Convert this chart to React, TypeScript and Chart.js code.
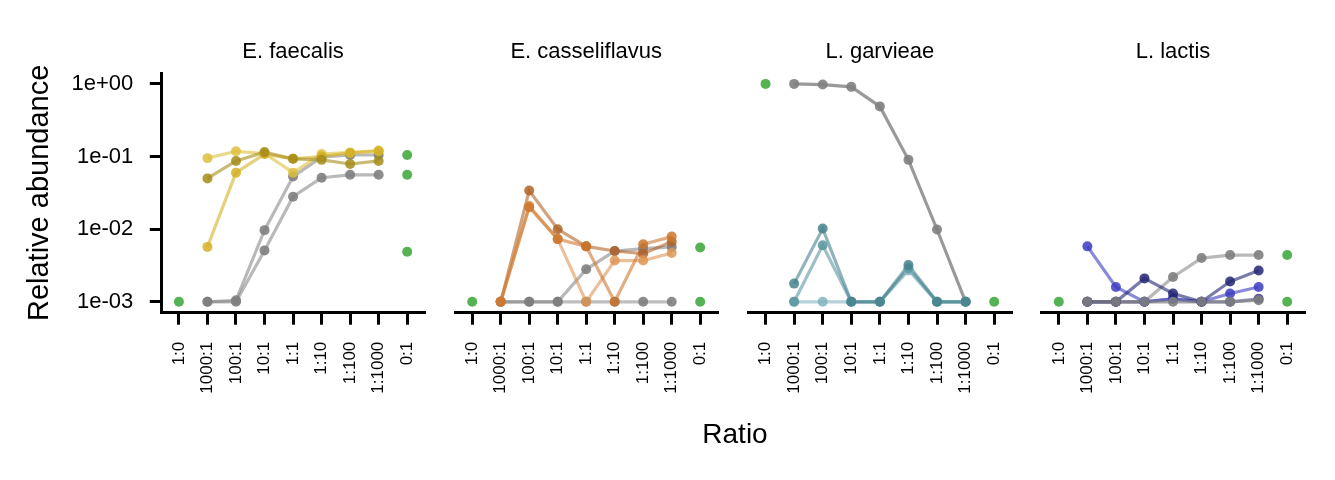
import React, { useEffect, useRef } from "react";
import { Chart, registerables } from "chart.js";

Chart.register(...registerables);

// ---------- data ----------
const ratioLabels = ["1:0", "1000:1", "100:1", "10:1", "1:1", "1:10", "1:100", "1:1000", "0:1"];
const mixIndex = [1, 2, 3, 4, 5, 6, 7];
const panelTitles = ["E. faecalis", "E. casseliflavus", "L. garvieae", "L. lactis"];
const yTickValues = [1e-3, 1e-2, 1e-1, 1];

// E. faecalis
const faecalisA = [0.095, 0.118, 0.11, 0.06, 0.108, 0.114, 0.121];
const faecalisB = [0.0057, 0.06, 0.108, 0.093, 0.1, 0.112, 0.118];
const faecalisC = [0.05, 0.087, 0.115, 0.093, 0.09, 0.079, 0.087];
const faecalisGrey1 = [0.001, 0.00105, 0.0097, 0.053, 0.098, 0.105, 0.105];
const faecalisGrey2 = [0.001, 0.001, 0.0051, 0.028, 0.051, 0.056, 0.056];
const faecalisMonoLeft = [0.001];
const faecalisMonoRight = [0.105, 0.056, 0.0049];

// E. casseliflavus
const casseliA = [0.001, 0.034, 0.01, 0.0058, 0.005, 0.0046, 0.0067];
const casseliB = [0.001, 0.021, 0.0073, 0.001, 0.0037, 0.0037, 0.0047];
const casseliC = [0.001, 0.02, 0.0073, 0.0058, 0.001, 0.0062, 0.0079];
const casseliGrey1 = [0.001, 0.001, 0.001, 0.001, 0.001, 0.001, 0.001];
const casseliGrey2 = [0.001, 0.001, 0.001, 0.0028, 0.005, 0.0054, 0.0057];
const casseliMonoLeft = [0.001];
const casseliMonoRight = [0.0056, 0.001];

// L. garvieae
const garvieaeA = [0.00178, 0.0102, 0.001, 0.001, 0.0032, 0.001, 0.001];
const garvieaeB = [0.001, 0.006, 0.001, 0.001, 0.0029, 0.001, 0.001];
const garvieaeC = [0.001, 0.001, 0.001, 0.001, 0.0027, 0.001, 0.001];
const garvieaeGrey1 = [1.0, 0.98, 0.91, 0.49, 0.09, 0.0099, 0.001];
const garvieaeMonoLeft = [1.0];
const garvieaeMonoRight = [0.001];

// L. lactis
const lactisA = [0.0058, 0.0016, 0.001, 0.0011, 0.001, 0.0013, 0.0016];
const lactisB = [0.001, 0.001, 0.0021, 0.0013, 0.001, 0.0019, 0.0027];
const lactisC = [0.001, 0.001, 0.001, 0.0011, 0.001, 0.001, 0.0011];
const lactisGrey1 = [0.001, 0.001, 0.001, 0.0022, 0.004, 0.0044, 0.0044];
const lactisGrey2 = [0.001, 0.001, 0.001, 0.001, 0.001, 0.001, 0.00105];
const lactisMonoLeft = [0.001];
const lactisMonoRight = [0.0044, 0.001];

// ---------- styles ----------
const FONT = "'Liberation Sans', Arial, Helvetica, sans-serif";
const PLOT_LEFT0 = 161.8;
const PANEL_STEP = 293.3;
const PLOT_W = 263.7;
const PLOT_BOTTOM = 312.7;
const H = 480;
const GREEN = "rgba(77,175,74,0.95)";
const GREY = [128, 128, 128];
const LINE_W = 3.2;
const POINT_R = 5;

type Series = { values: number[]; color: number[]; lineA: number; pointA: number };
type Panel = { title: string; series: Series[]; monoLeft: number[]; monoRight: number[] };

const rgba = (c: number[], a: number) => `rgba(${c[0]},${c[1]},${c[2]},${a})`;

const panels: Panel[] = [
  {
    title: panelTitles[0],
    series: [
      { values: faecalisGrey2, color: GREY, lineA: 0.55, pointA: 0.9 },
      { values: faecalisGrey1, color: GREY, lineA: 0.55, pointA: 0.9 },
      { values: faecalisA, color: [222, 192, 60], lineA: 0.6, pointA: 0.85 },
      { values: faecalisB, color: [212, 178, 36], lineA: 0.6, pointA: 0.85 },
      { values: faecalisC, color: [165, 140, 25], lineA: 0.6, pointA: 0.85 },
    ],
    monoLeft: faecalisMonoLeft,
    monoRight: faecalisMonoRight,
  },
  {
    title: panelTitles[1],
    series: [
      { values: casseliGrey1, color: GREY, lineA: 0.5, pointA: 0.9 },
      { values: casseliGrey2, color: GREY, lineA: 0.55, pointA: 0.9 },
      { values: casseliA, color: [176, 100, 40], lineA: 0.6, pointA: 0.85 },
      { values: casseliB, color: [222, 150, 85], lineA: 0.6, pointA: 0.85 },
      { values: casseliC, color: [205, 118, 45], lineA: 0.6, pointA: 0.85 },
    ],
    monoLeft: casseliMonoLeft,
    monoRight: casseliMonoRight,
  },
  {
    title: panelTitles[2],
    series: [
      { values: garvieaeGrey1, color: GREY, lineA: 0.8, pointA: 0.9 },
      { values: garvieaeC, color: [130, 180, 190], lineA: 0.6, pointA: 0.85 },
      { values: garvieaeB, color: [90, 150, 160], lineA: 0.6, pointA: 0.85 },
      { values: garvieaeA, color: [70, 130, 140], lineA: 0.6, pointA: 0.85 },
    ],
    monoLeft: garvieaeMonoLeft,
    monoRight: garvieaeMonoRight,
  },
  {
    title: panelTitles[3],
    series: [
      { values: lactisGrey1, color: GREY, lineA: 0.55, pointA: 0.9 },
      { values: lactisC, color: [55, 55, 140], lineA: 0.5, pointA: 0.85 },
      { values: lactisA, color: [60, 60, 195], lineA: 0.6, pointA: 0.85 },
      { values: lactisB, color: [35, 35, 115], lineA: 0.6, pointA: 0.85 },
      { values: lactisGrey2, color: GREY, lineA: 0.7, pointA: 0.9 },
    ],
    monoLeft: lactisMonoLeft,
    monoRight: lactisMonoRight,
  },
];

const fmtSci = (v: number) => {
  const e = Math.round(Math.log10(v));
  const sign = e < 0 ? "-" : "+";
  return `1e${sign}${String(Math.abs(e)).padStart(2, "0")}`;
};

function PanelChart({ idx }: { idx: number }) {
  const ref = useRef<HTMLCanvasElement>(null);
  const plotLeft = PLOT_LEFT0 + PANEL_STEP * idx;
  const canvasLeft = idx === 0 ? 0 : Math.floor(plotLeft) - 30;
  const padLeft = idx === 0 ? 0 : plotLeft - canvasLeft;
  const width = Math.ceil(plotLeft + PLOT_W + 20) - canvasLeft;
  const padRight = width - (plotLeft - canvasLeft) - PLOT_W;

  useEffect(() => {
    const p = panels[idx];
    const datasets: any[] = [];
    p.series.forEach((s, k) => {
      const data = s.values.map((v, i) => ({ x: mixIndex[i], y: v }));
      datasets.push({
        data,
        borderColor: rgba(s.color, s.lineA),
        borderWidth: LINE_W,
        pointRadius: 0,
        fill: false,
        tension: 0,
        order: 10 + (p.series.length - k),
      });
      datasets.push({
        data,
        showLine: false,
        pointRadius: POINT_R,
        pointBackgroundColor: rgba(s.color, s.pointA),
        pointBorderWidth: 0,
        pointBorderColor: "rgba(0,0,0,0)",
        order: 1 + (p.series.length - k) * 0.01,
      });
    });
    const mono = [
      ...p.monoLeft.map((v) => ({ x: 0, y: v })),
      ...p.monoRight.map((v) => ({ x: 8, y: v })),
    ];
    datasets.push({
      data: mono,
      showLine: false,
      pointRadius: POINT_R,
      pointBackgroundColor: GREEN,
      pointBorderWidth: 0,
      pointBorderColor: "rgba(0,0,0,0)",
      order: 0,
    });

    const axisGrid = {
      display: true,
      drawOnChartArea: false,
      drawTicks: true,
      tickLength: 12,
      color: "#000",
      lineWidth: 3,
    };
    const axisBorder = { display: true, color: "#000", width: 3 };

    const chart = new Chart(ref.current as HTMLCanvasElement, {
      type: "line",
      data: { datasets },
      options: {
        animation: false,
        responsive: false,
        maintainAspectRatio: false,
        events: [],
        layout: { padding: { left: padLeft, right: padRight, top: 0, bottom: 0 } },
        plugins: {
          legend: { display: false },
          tooltip: { enabled: false },
          title: {
            display: true,
            text: p.title,
            fullSize: false,
            color: "#000",
            font: { family: FONT, size: 22, weight: "normal", lineHeight: 1.2 },
            padding: { top: 38.8, bottom: 7.8 },
          },
        },
        scales: {
          x: {
            type: "linear",
            min: -0.6,
            max: 8.6,
            afterBuildTicks: (s: any) => {
              s.ticks = ratioLabels.map((_, i) => ({ value: i }));
            },
            afterFit: (s: any) => {
              s.height = H - PLOT_BOTTOM;
            },
            ticks: {
              autoSkip: false,
              minRotation: 90,
              maxRotation: 90,
              padding: 17,
              color: "#000",
              font: { family: FONT, size: 17 },
              callback: (v: any) => ratioLabels[v] ?? "",
            },
            grid: axisGrid,
            border: axisBorder,
          },
          y: {
            type: "logarithmic",
            display: idx === 0,
            min: Math.pow(10, -3.15),
            max: Math.pow(10, 0.15),
            afterBuildTicks: (s: any) => {
              s.ticks = yTickValues.map((v) => ({ value: v }));
            },
            afterFit:
              idx === 0
                ? (s: any) => {
                    s.width = PLOT_LEFT0;
                  }
                : undefined,
            ticks: {
              padding: 16.5,
              color: "#000",
              font: { family: FONT, size: 22 },
              callback: (v: any) => fmtSci(Number(v)),
            },
            grid: axisGrid,
            border: axisBorder,
            title: {
              display: true,
              text: "Relative abundance",
              color: "#000",
              font: { family: FONT, size: 29, lineHeight: 1.2 },
              padding: { top: 22.6, bottom: 0 },
            },
          },
        },
      } as any,
    });
    return () => chart.destroy();
  }, [idx]);

  return (
    <canvas
      ref={ref}
      width={width}
      height={H}
      style={{ position: "absolute", left: canvasLeft, top: 0, width, height: H }}
    />
  );
}

export default function App() {
  return (
    <div
      style={{
        position: "absolute",
        left: 0,
        top: 0,
        width: 1335,
        height: 480,
        background: "#fff",
        overflow: "hidden",
      }}
    >
      {panels.map((_, i) => (
        <PanelChart key={i} idx={i} />
      ))}
      <div
        style={{
          position: "absolute",
          left: 735,
          top: 420.3,
          transform: "translateX(-50%)",
          fontFamily: FONT,
          fontSize: 28,
          lineHeight: "28px",
          color: "#000",
          whiteSpace: "nowrap",
        }}
      >
        Ratio
      </div>
    </div>
  );
}
